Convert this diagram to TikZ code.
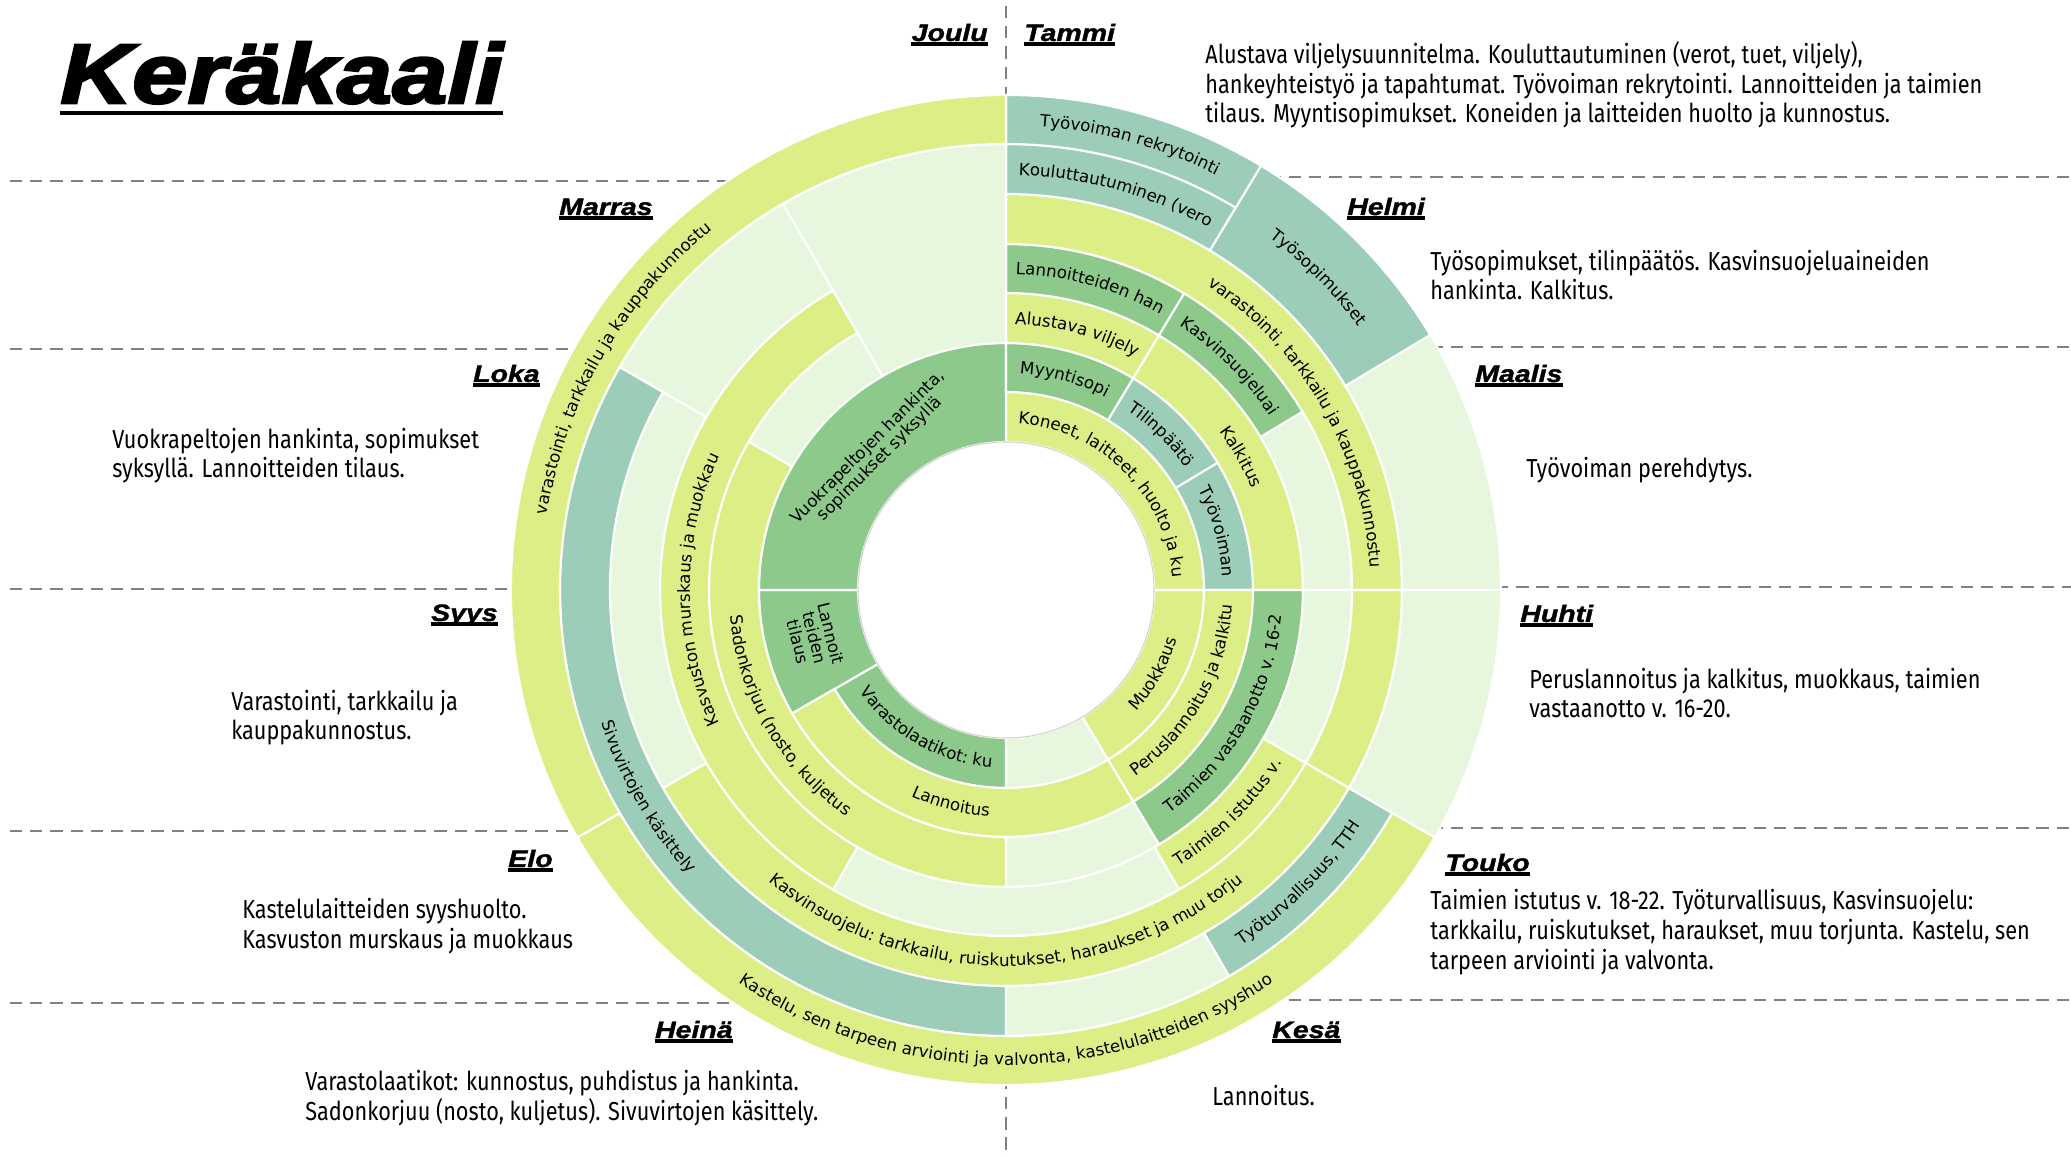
\documentclass[tikz,border=0pt]{standalone}
\usepackage{fontspec}
\usepackage{tikz}
\usetikzlibrary{decorations.text}

\setmainfont{DejaVu Sans}
\newfontfamily\chartfont{DejaVu Sans}
\newfontfamily\descfont{Fira Sans}[FakeStretch=0.835]
\newfontfamily\monthfont{Liberation Sans}[BoldItalicFeatures={FakeStretch=1.2,FakeBold=1.5}]
\newfontfamily\titlefont{Liberation Sans}[BoldItalicFeatures={FakeStretch=1.18,FakeBold=3}]

\definecolor{segyel}{HTML}{DCEF87}
\definecolor{seglig}{HTML}{E7F7DD}
\definecolor{segteal}{HTML}{9CCDB8}
\definecolor{segmed}{HTML}{8DC98B}
\definecolor{dashgray}{HTML}{808080}

\newcommand{\segfont}{\chartfont\fontsize{9.5}{11}\selectfont}
\newcommand{\arcup}[4]{%
\path[decorate,decoration={text along path,text align=center,text={|\segfont|#4}}]
 ({90-#1}:#3) arc[start angle={90-#1},end angle={90-#2},radius=#3];}
\newcommand{\arcdown}[4]{%
\path[decorate,decoration={text along path,text align=center,text={|\segfont|#4}}]
 ({90-#2}:#3) arc[start angle={90-#2},end angle={90-#1},radius=#3];}

\begin{document}
\begin{tikzpicture}[x=0.02cm,y=0.02cm,
 seg/.style={draw=white,line width=1.2pt},
 dashline/.style={dashgray,line width=1.1pt,dash pattern=on 7pt off 4.5pt},
 monthlbl/.style={font=\monthfont\bfseries\itshape\fontsize{13.5}{16}\selectfont,inner sep=0pt},
 desc/.style={font=\descfont\fontsize{14.8}{17}\selectfont,align=left,inner sep=0pt,anchor=base west},
 segnode/.style={font=\chartfont\fontsize{9.5}{9.6}\selectfont,align=center,inner sep=0pt}]

\useasboundingbox (-1006,-568) rectangle (1065,590);

\foreach \y in {409,241,-241,-413} {
\draw[dashline] (-996,\y) -- (0,\y);
}
\draw[dashline] (-996,1) -- (-490,1);
\foreach \y in {413,243,-238,-410} {
\draw[dashline] (0,\y) -- (1065,\y);
}
\draw[dashline] (490,3) -- (1065,3);
\draw[dashline] (0,584) -- (0,-568);

\foreach \a/\b/\ri/\ro/\c in {
 0/90/148/198/segyel, 90/149/148/198/segyel, 149/180/148/198/seglig, 180/240/148/198/segmed,
 240/270/148/247/segmed, 270/360/148/247/segmed,
 0/31/198/247/segmed, 31/59/198/247/segteal, 59/90/198/247/segteal, 90/149/198/247/segyel, 149/240/198/247/segyel,
 0/31/247/297/segyel, 31/90/247/297/segyel, 90/149/247/297/segmed, 149/180/247/297/seglig,
 180/300/247/297/segyel, 300/330/247/297/seglig,
 0/31/297/346/segmed, 31/59/297/346/segmed, 59/90/297/346/seglig, 90/120/297/346/seglig,
 120/150/297/346/segyel, 150/210/297/346/seglig, 210/330/297/346/segyel,
 0/90/346/396/segyel, 90/120/346/396/segyel, 120/240/346/396/segyel, 240/300/346/396/seglig,
 0/31/396/446/segteal, 120/150/396/446/segteal, 150/180/396/446/seglig, 180/300/396/446/segteal,
 300/330/346/446/seglig, 330/360/247/446/seglig,
 31/59/396/495/segteal, 59/90/396/495/seglig, 90/120/396/495/seglig,
 0/31/446/495/segteal, 120/240/446/495/segyel, 240/360/446/495/segyel} {
\filldraw[fill=\c,seg] ({90-\a}:\ro) arc[start angle={90-\a},end angle={90-\b},radius=\ro]
 -- ({90-\b}:\ri) arc[start angle={90-\b},end angle={90-\a},radius=\ri] -- cycle;
}
\filldraw[fill=white,draw=gray!35,line width=0.6pt] (0,0) circle[radius=148];

\arcup{0}{90}{167}{Koneet, laitteet, huolto ja ku}
\arcup{0}{31}{217}{Myyntisopi}
\arcup{31}{59}{217}{Tilinpäätö}
\arcup{59}{90}{217}{Työvoiman}
\arcup{0}{31}{266}{Alustava viljely}
\arcup{31}{90}{266}{Kalkitus}
\arcup{0}{31}{316}{Lannoitteiden han}
\arcup{31}{59}{316}{Kasvinsuojeluai}
\arcup{30}{90}{365}{varastointi, tarkkailu ja kauppakunnostu}
\arcup{0}{31}{415}{Kouluttautuminen (vero}
\arcup{0}{31}{465}{Työvoiman rekrytointi}
\arcup{31}{59}{440}{Työsopimukset}
\arcup{240}{360}{465}{varastointi, tarkkailu ja kauppakunnostu}
\arcup{210}{330}{316}{Kasvuston murskaus ja muokkau}
\arcdown{90}{149}{178}{Muokkaus}
\arcdown{90}{149}{227}{Peruslannoitus ja kalkitu}
\arcdown{90}{149}{277}{Taimien vastaanotto v. 16-2}
\arcdown{120}{150}{326}{Taimien istutus v.}
\arcdown{120}{150}{426}{Työturvallisuus, TTH}
\arcdown{120}{240}{376}{Kasvinsuojelu: tarkkailu, ruiskutukset, haraukset ja muu torju}
\arcdown{120}{240}{475}{Kastelu, sen tarpeen arviointi ja valvonta, kastelulaitteiden syyshuo}
\arcdown{149}{240}{227}{Lannoitus}
\arcdown{180}{240}{178}{Varastolaatikot: ku}
\arcdown{180}{300}{277}{Sadonkorjuu (nosto, kuljetus}
\arcdown{180}{300}{426}{Sivuvirtojen käsittely}

\node[segnode,rotate=45] (vuokra) at (-226:190) {Vuokrapeltojen hankinta,\\sopimukset syksyllä};
\node[segnode,rotate=-76] (lannoittilaus) at (-166:197) {Lannoit\\teiden\\tilaus};

\node[font=\titlefont\bfseries\itshape\fontsize{48}{50}\selectfont,inner sep=0pt,anchor=base west] (title) at (-946,487) {Keräkaali};
\draw[line width=2.3pt] ([yshift=-0.2cm]title.base west) -- ([yshift=-0.2cm]title.base east);

\node[monthlbl,anchor=base east] (joulu) at (-18,549) {Joulu};
\node[monthlbl,anchor=base west] (tammi) at (18,549) {Tammi};
\node[monthlbl,anchor=base east] (marras) at (-353,375) {Marras};
\node[monthlbl,anchor=base west] (helmi) at (341,375) {Helmi};
\node[monthlbl,anchor=base east] (loka) at (-466,208) {Loka};
\node[monthlbl,anchor=base west] (maalis) at (469,208) {Maalis};
\node[monthlbl,anchor=base east] (syys) at (-508,-31) {Syys};
\node[monthlbl,anchor=base west] (huhti) at (514,-32) {Huhti};
\node[monthlbl,anchor=base east] (elo) at (-453,-277) {Elo};
\node[monthlbl,anchor=base west] (touko) at (439,-281) {Touko};
\node[monthlbl,anchor=base east] (heina) at (-273,-448) {Heinä};
\node[monthlbl,anchor=base west] (kesa) at (266,-448) {Kesä};
\foreach \m in {joulu,tammi,marras,helmi,loka,maalis,syys,huhti,elo,touko,heina,kesa} {
\draw[line width=1.8pt] ([yshift=-0.06cm]\m.base west) -- ([yshift=-0.06cm]\m.base east);
}

\node[desc] (tammidesc) at (199,467) {Alustava viljelysuunnitelma. Kouluttautuminen (verot, tuet, viljely),\\hankeyhteistyö ja tapahtumat. Työvoiman rekrytointi. Lannoitteiden ja taimien\\tilaus. Myyntisopimukset. Koneiden ja laitteiden huolto ja kunnostus.};
\node[desc] (helmidesc) at (424,290) {Työsopimukset, tilinpäätös. Kasvinsuojeluaineiden\\hankinta. Kalkitus.};
\node[desc] (maalisdesc) at (520,112) {Työvoiman perehdytys.};
\node[desc] (huhtidesc) at (523,-128) {Peruslannoitus ja kalkitus, muokkaus, taimien\\vastaanotto v. 16-20.};
\node[desc] (toukodesc) at (424,-379) {Taimien istutus v. 18-22. Työturvallisuus, Kasvinsuojelu:\\tarkkailu, ruiskutukset, haraukset, muu torjunta. Kastelu, sen\\tarpeen arviointi ja valvonta.};
\node[desc] (kesadesc) at (206,-515) {Lannoitus.};
\node[desc] (lokadesc) at (-894,112) {Vuokrapeltojen hankinta, sopimukset\\syksyllä. Lannoitteiden tilaus.};
\node[desc] (syysdesc) at (-775,-150) {Varastointi, tarkkailu ja\\kauppakunnostus.};
\node[desc] (elodesc) at (-764,-358) {Kastelulaitteiden syyshuolto.\\Kasvuston murskaus ja muokkaus};
\node[desc] (heinadesc) at (-701,-530) {Varastolaatikot: kunnostus, puhdistus ja hankinta.\\Sadonkorjuu (nosto, kuljetus). Sivuvirtojen käsittely.};

\end{tikzpicture}
\end{document}
